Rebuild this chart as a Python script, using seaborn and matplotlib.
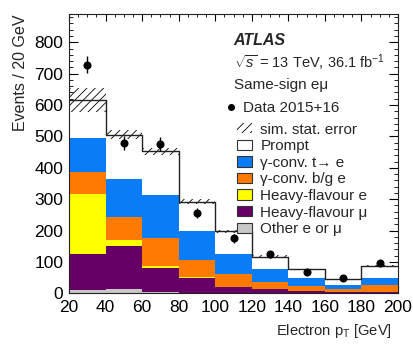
import numpy as np
import pandas as pd
import seaborn as sns
import matplotlib.pyplot as plt
import matplotlib.ticker as ticker
from matplotlib.patches import Patch
from matplotlib.lines import Line2D

# bin edges and the stacked backgrounds
edges = [20, 40, 60, 80, 100, 120, 140, 160, 180, 200]
other = [10, 15, 3, 2, 2, 1, 1, 1, 1]
hf_mu = [114, 137, 77, 48, 17, 12, 7, 3, 4]
hf_e = [194, 19, 7, 3, 1, 0, 0, 0, 0]
conv_bg = [69, 73, 90, 53, 41, 23, 15, 9, 21]
conv_t = [107, 120, 135, 93, 64, 40, 27, 14, 22]
prompt = [122, 142, 141, 93, 73, 41, 26, 17, 39]
sim_err = [38, 13, 11, 8, 5, 4, 3, 3, 4]
data = [729, 478, 475, 257, 175, 124, 69, 48, 96]

labels = ["Prompt", "γ-conv. t→ e", "γ-conv. b/g e", "Heavy-flavour e",
          "Heavy-flavour μ", "Other e or μ"]
colors = ["#ffffff", "#0a7cf5", "#ff7a00", "#ffff00", "#660066", "#c8c8c8"]
series = [prompt, conv_t, conv_bg, hf_e, hf_mu, other]

centers = (np.array(edges[:-1]) + np.array(edges[1:])) / 2
total = np.sum(series, axis=0)

rows = []
for lab, vals in zip(labels, series):
    for c, v in zip(centers, vals):
        rows.append({"pt": c, "w": v, "comp": lab})
df = pd.DataFrame(rows)

sns.set_style("ticks")
plt.rcParams['font.family'] = ['Liberation Sans', 'DejaVu Sans']
plt.rcParams['mathtext.fontset'] = 'custom'
plt.rcParams['mathtext.rm'] = 'Liberation Sans'
plt.rcParams['mathtext.it'] = 'Liberation Sans:italic'
plt.rcParams['hatch.linewidth'] = 0.6

fig = plt.figure(figsize=(4.14, 3.53), dpi=100)
ax = fig.add_axes([0.1667, 0.1691, 0.7947, 0.7912])

sns.histplot(data=df, x="pt", weights="w", hue="comp", hue_order=labels,
             palette=colors, multiple="stack", bins=edges, element="bars",
             linewidth=0, alpha=1, legend=False, ax=ax)

# total outline
sns.histplot(x=centers, weights=total, bins=edges, element="step", fill=False,
             color="#222222", linewidth=1, ax=ax)

# sim. stat. error band
ax.bar(centers, 2 * np.array(sim_err), bottom=total - np.array(sim_err), width=20,
       fill=False, hatch="////", edgecolor="k", linewidth=0)

ax.errorbar(centers, data, yerr=np.sqrt(data), fmt="o", color="k", ms=4.8,
            elinewidth=1, capsize=0)

ax.set_xlim(20, 200)
ax.set_ylim(0, 890)
ax.xaxis.set_major_locator(ticker.MultipleLocator(20))
ax.xaxis.set_minor_locator(ticker.MultipleLocator(5))
ax.yaxis.set_major_locator(ticker.MultipleLocator(100))
ax.yaxis.set_minor_locator(ticker.MultipleLocator(20))
ax.tick_params(which="both", direction="in", top=True, right=True, labelsize=12.5,
               colors="k")
ax.tick_params(axis="x", which="major", length=5, pad=5)
ax.tick_params(axis="x", which="minor", length=2.5)
ax.tick_params(axis="y", which="major", length=6.5, pad=4)
ax.tick_params(axis="y", which="minor", length=3.2)
for s in ax.spines.values():
    s.set_linewidth(0.8)
    s.set_color("#222222")

ax.set_ylabel("Events / 20 GeV", loc="top", fontsize=11.5)
ax.yaxis.set_label_coords(-0.125, 1.0)
ax.set_xlabel(r"Electron p$_\mathrm{T}$ [GeV]", loc="right", fontsize=10.6)
ax.xaxis.set_label_coords(0.982, -0.102)

ax.text(0.5, 0.905, "ATLAS", transform=ax.transAxes, fontsize=11.5,
        fontweight="bold", fontstyle="italic", va="center")
ax.text(0.5, 0.826, r"$\sqrt{s}$ = 13 TeV, 36.1 fb$^{-1}$", transform=ax.transAxes,
        fontsize=10.5, va="center")
ax.text(0.5, 0.745, "Same-sign eμ", transform=ax.transAxes, fontsize=11,
        va="center")

leg1 = ax.legend([Line2D([], [], marker="o", color="k", ls="none", ms=4)],
                 ["Data 2015+16"], loc="center left", bbox_to_anchor=(0.4726, 0.6634),
                 frameon=False, fontsize=11, borderpad=0, borderaxespad=0,
                 handlelength=0.8, handletextpad=0.4)
ax.add_artist(leg1)

handles = [Patch(facecolor="white", edgecolor="k", linewidth=0, hatch="////")]
for lab, col in zip(labels, colors):
    handles.append(Patch(facecolor=col, edgecolor="#333333", linewidth=0.8))
ax.legend(handles, ["sim. stat. error"] + labels, loc="center left",
          bbox_to_anchor=(0.5097, 0.408), frameon=False, fontsize=11,
          borderpad=0, borderaxespad=0, handlelength=1.0, handleheight=0.68,
          handletextpad=0.55, labelspacing=0.17)

plt.savefig("out.png", dpi=100)
plt.close(fig)
